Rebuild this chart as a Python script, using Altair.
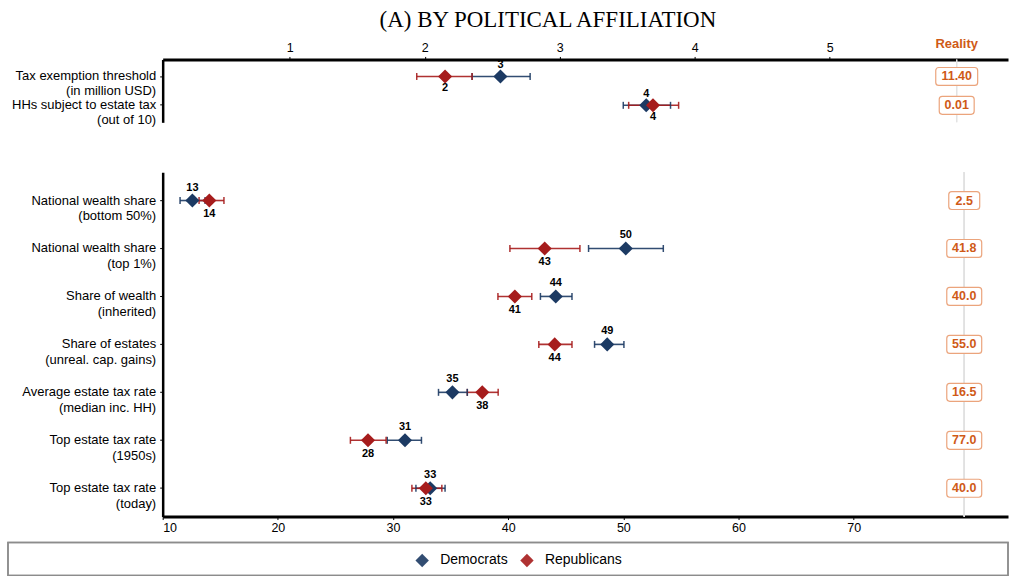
import altair as alt
import pandas as pd

FONT = "Liberation Sans"
DEM_COLOR = "#1c3a63"
REP_COLOR = "#a61c1c"
REAL_COLOR = "#cf5a17"
BOX_STROKE = "#eba47c"

parties = ["Democrats", "Republicans"]

# Upper block: perceived thresholds (point estimate, 95% CI bounds)
top_items = [
    "Tax exemption threshold|(in million USD)",
    "HHs subject to estate tax|(out of 10)",
]
top_dem = [2.56, 3.64]
top_dem_lo = [2.35, 3.47]
top_dem_hi = [2.78, 3.82]
top_rep = [2.15, 3.69]
top_rep_lo = [1.94, 3.51]
top_rep_hi = [2.35, 3.88]
top_reality = ["11.40", "0.01"]
top_ticks = [1, 2, 3, 4, 5]

# Lower block: perceived shares and rates (percent)
bottom_items = [
    "National wealth share|(bottom 50%)",
    "National wealth share|(top 1%)",
    "Share of wealth|(inherited)",
    "Share of estates|(unreal. cap. gains)",
    "Average estate tax rate|(median inc. HH)",
    "Top estate tax rate|(1950s)",
    "Top estate tax rate|(today)",
]
bot_dem = [12.58, 50.21, 44.13, 48.60, 35.16, 31.04, 33.23]
bot_dem_lo = [11.51, 46.98, 42.80, 47.50, 33.95, 29.50, 31.99]
bot_dem_hi = [13.68, 53.47, 45.54, 50.05, 36.45, 32.47, 34.52]
bot_rep = [14.05, 43.17, 40.58, 44.04, 37.75, 27.83, 32.85]
bot_rep_lo = [13.16, 40.15, 39.11, 42.66, 36.45, 26.30, 31.64]
bot_rep_hi = [15.32, 46.23, 42.05, 45.54, 39.13, 29.40, 34.24]
bot_reality = ["2.5", "41.8", "40.0", "55.0", "16.5", "77.0", "40.0"]
bottom_ticks = [10, 20, 30, 40, 50, 60, 70]

# width of the reality boxes by number of characters
box_widths = {3: 31, 4: 35, 5: 42}

PLOT_W = 847
AXIS_W = 155


def estimates(items, dem, dlo, dhi, rep, rlo, rhi):
    rows = []
    for party, est, lo, hi in [("Democrats", dem, dlo, dhi), ("Republicans", rep, rlo, rhi)]:
        for item, e, l, h in zip(items, est, lo, hi):
            rows.append({"item": item, "party": party, "est": e, "lo": l, "hi": h})
    return pd.DataFrame(rows)


def panel(est_df, items, reality, x_domain, x_ticks, x_orient, real_x, height,
          label_dy, line_height, header=False):
    real_df = pd.DataFrame({"item": items, "reality": reality})
    x_scale = alt.Scale(domain=x_domain, nice=False, zero=False)
    x_axis = alt.Axis(
        values=x_ticks, orient=x_orient, format="d", title=None, grid=False,
        domainWidth=3, domainColor="black", tickSize=3, tickColor="black",
        tickWidth=1, labelFontSize=12.5, labelFont=FONT, labelColor="black",
        labelPadding=2,
    )
    y_enc = alt.Y(
        "item:N", sort=items, title=None,
        scale=alt.Scale(paddingInner=0, paddingOuter=0.09),
        axis=alt.Axis(
            labelExpr="split(datum.value, '|')", labelFontSize=13, labelFont=FONT,
            labelColor="black", labelLineHeight=line_height, labelPadding=4, tickSize=3,
            tickColor="black", domainWidth=2.5, domainColor="black",
            minExtent=AXIS_W, maxExtent=AXIS_W, labelLimit=300,
        ),
    )
    color = alt.Color(
        "party:N", scale=alt.Scale(domain=parties, range=[DEM_COLOR, REP_COLOR]),
        legend=alt.Legend(title=None),
    )
    base = alt.Chart(est_df)

    guide = alt.Chart(real_df).mark_rule(color="#e2e2e2", strokeWidth=1.2).encode(
        x=alt.datum(real_x, scale=x_scale, axis=x_axis)
    )
    bars = base.mark_rule(strokeWidth=1.6, opacity=0.9).encode(
        x=alt.X("lo:Q", scale=x_scale), x2="hi:Q", y=y_enc, color=color
    )
    cap_lo = base.mark_tick(size=7, thickness=1.5, opacity=0.9).encode(
        x=alt.X("lo:Q", scale=x_scale), y=y_enc, color=color
    )
    cap_hi = base.mark_tick(size=7, thickness=1.5, opacity=0.9).encode(
        x=alt.X("hi:Q", scale=x_scale), y=y_enc, color=color
    )
    dots = base.mark_point(shape="diamond", filled=True, size=200, opacity=1).encode(
        x=alt.X("est:Q", scale=x_scale), y=y_enc, color=color
    )
    lab_dem = base.transform_filter(alt.datum.party == "Democrats").mark_text(
        dy=-label_dy, fontSize=11, fontWeight="bold", font=FONT, color="black"
    ).encode(x=alt.X("est:Q", scale=x_scale), y=y_enc, text=alt.Text("est:Q", format=".0f"))
    lab_rep = base.transform_filter(alt.datum.party == "Republicans").mark_text(
        dy=label_dy + 1, fontSize=11, fontWeight="bold", font=FONT, color="black"
    ).encode(x=alt.X("est:Q", scale=x_scale), y=y_enc, text=alt.Text("est:Q", format=".0f"))

    boxes = [
        alt.Chart(real_df)
        .transform_filter(f"length(datum.reality) == {n}")
        .mark_rect(width=w, height=18, cornerRadius=3, fill="white",
                   stroke=BOX_STROKE, strokeWidth=1.2)
        .encode(x=alt.datum(real_x, scale=x_scale), y=y_enc)
        for n, w in box_widths.items()
    ]
    real_text = alt.Chart(real_df).mark_text(
        fontSize=12.5, fontWeight="bold", font=FONT, color=REAL_COLOR
    ).encode(x=alt.datum(real_x, scale=x_scale), y=y_enc, text="reality:N")

    layers = [guide, bars, cap_lo, cap_hi, dots, lab_dem, lab_rep] + boxes + [real_text]
    if header:
        head = alt.Chart(pd.DataFrame({"h": ["Reality"]})).mark_text(
            fontSize=13, fontWeight="bold", font=FONT, color=REAL_COLOR
        ).encode(x=alt.datum(real_x, scale=x_scale), y=alt.value(-15), text="h:N")
        layers.append(head)
    return alt.layer(*layers).properties(width=PLOT_W, height=height)


top_df = estimates(top_items, top_dem, top_dem_lo, top_dem_hi, top_rep, top_rep_lo, top_rep_hi)
bot_df = estimates(bottom_items, bot_dem, bot_dem_lo, bot_dem_hi, bot_rep, bot_rep_lo, bot_rep_hi)

top = panel(top_df, top_items, top_reality, [0.058, 6.32], top_ticks, "top", 5.94, 63,
            11, 14.5, header=True)
bottom = panel(bot_df, bottom_items, bot_reality, [10, 83.4], bottom_ticks, "bottom", 79.6,
               345, 13, 16)

plots = alt.vconcat(top, bottom, spacing=43).resolve_scale(x="independent", y="independent")

# frame around the legend, spanning the label column and the plot width
legend_frame = alt.Chart(pd.DataFrame({"party": parties})).mark_rect(
    fill="transparent", stroke="#8c8c8c", strokeWidth=1.5
).encode(
    x=alt.value(-AXIS_W), x2=alt.value(PLOT_W), y=alt.value(0), y2=alt.value(33)
).properties(width=PLOT_W, height=33)

chart = (
    alt.vconcat(plots, legend_frame, spacing=6)
    .properties(
        title=alt.TitleParams(
            "(A) BY POLITICAL AFFILIATION", font="Liberation Serif", fontSize=23,
            fontWeight="normal", color="black", anchor="middle", dx=40, offset=6,
        ),
        padding={"left": 6, "top": 8, "right": 0, "bottom": 0},
    )
    .configure_view(stroke="transparent")
    .configure_legend(
        orient="none", legendX=253, legendY=495, direction="horizontal",
        symbolType="diamond", symbolSize=180, symbolStrokeWidth=0,
        labelFontSize=14, labelFont=FONT, labelColor="black", labelOffset=11,
        columnPadding=12, padding=0,
    )
)

chart.save("out.html", embed_options={"renderer": "svg", "actions": False})
